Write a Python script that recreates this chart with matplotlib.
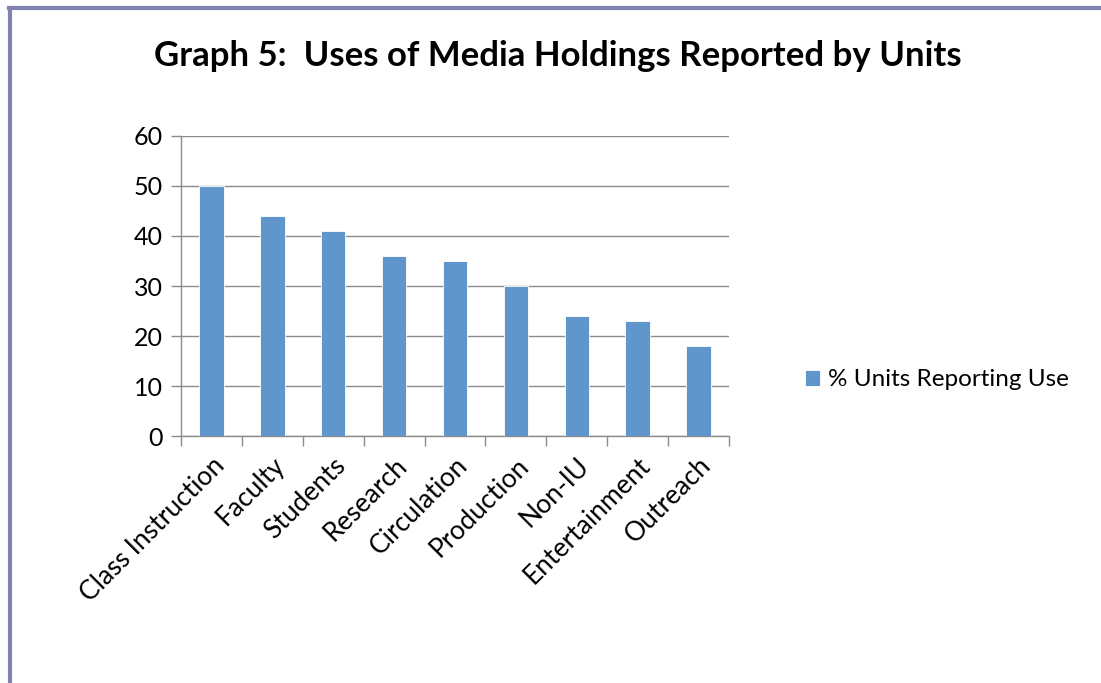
import matplotlib.pyplot as plt
import numpy as np
from matplotlib.lines import Line2D

categories = ["Class Instruction", "Faculty", "Students", "Research", "Circulation",
              "Production", "Non-IU", "Entertainment", "Outreach"]
values = [50, 44, 41, 36, 35, 30, 24, 23, 18]
series_name = "% Units Reporting Use"
title = "Graph 5:  Uses of Media Holdings Reported by Units"

BAR_COLOR = "#6096cb"
GRID_COLOR = "#8c8c8c"
BORDER_COLOR = "#8282b0"

plt.rcParams["font.family"] = ["Lato", "DejaVu Sans"]


def main() -> None:
    fig = plt.figure(figsize=(11.01, 6.83), dpi=100)
    ax = fig.add_axes([0.1644, 0.3616, 0.4977, 0.4393])

    x = np.arange(len(categories))
    bars = ax.bar(x, values, width=0.4, color=BAR_COLOR, edgecolor="white",
                  linewidth=0.6, label=series_name, zorder=3)

    ax.set_xlim(-0.5, len(categories) - 0.5)
    ax.set_ylim(0, 60)
    ax.set_yticks(range(0, 61, 10))
    ax.yaxis.grid(True, color=GRID_COLOR, linewidth=1.0, zorder=0)
    ax.set_axisbelow(True)

    ax.set_xticks(x)
    ax.set_xticklabels(categories, rotation=45, ha="right", rotation_mode="anchor",
                       fontsize=19)
    ax.set_xticks(np.arange(-0.5, len(categories)), minor=True)
    ax.tick_params(axis="x", which="major", length=0, pad=12)
    ax.tick_params(axis="x", which="minor", length=7, color=GRID_COLOR, width=1.0)
    ax.tick_params(axis="y", length=7, color=GRID_COLOR, width=1.0, labelsize=18, pad=6)

    for side in ("top", "right"):
        ax.spines[side].set_visible(False)
    for side in ("left", "bottom"):
        ax.spines[side].set_color(GRID_COLOR)
        ax.spines[side].set_linewidth(1.0)

    fig.text(0.507, 0.918, title, ha="center", va="center", fontsize=25,
             fontweight="bold")

    fig.legend(handles=[bars], labels=[series_name], loc="center left",
               bbox_to_anchor=(0.711, 0.444), frameon=False, fontsize=17.5,
               handlelength=0.65, handleheight=0.65, handletextpad=0.3)

    # page border (top and left edges)
    fig.add_artist(Line2D([0.0085, 1.0], [0.988, 0.988], transform=fig.transFigure,
                          color=BORDER_COLOR, linewidth=3.0))
    fig.add_artist(Line2D([0.0095, 0.0095], [0.0, 0.988], transform=fig.transFigure,
                          color=BORDER_COLOR, linewidth=3.0))

    fig.savefig("out.png", dpi=100)
    plt.close(fig)


if __name__ == "__main__":
    main()
